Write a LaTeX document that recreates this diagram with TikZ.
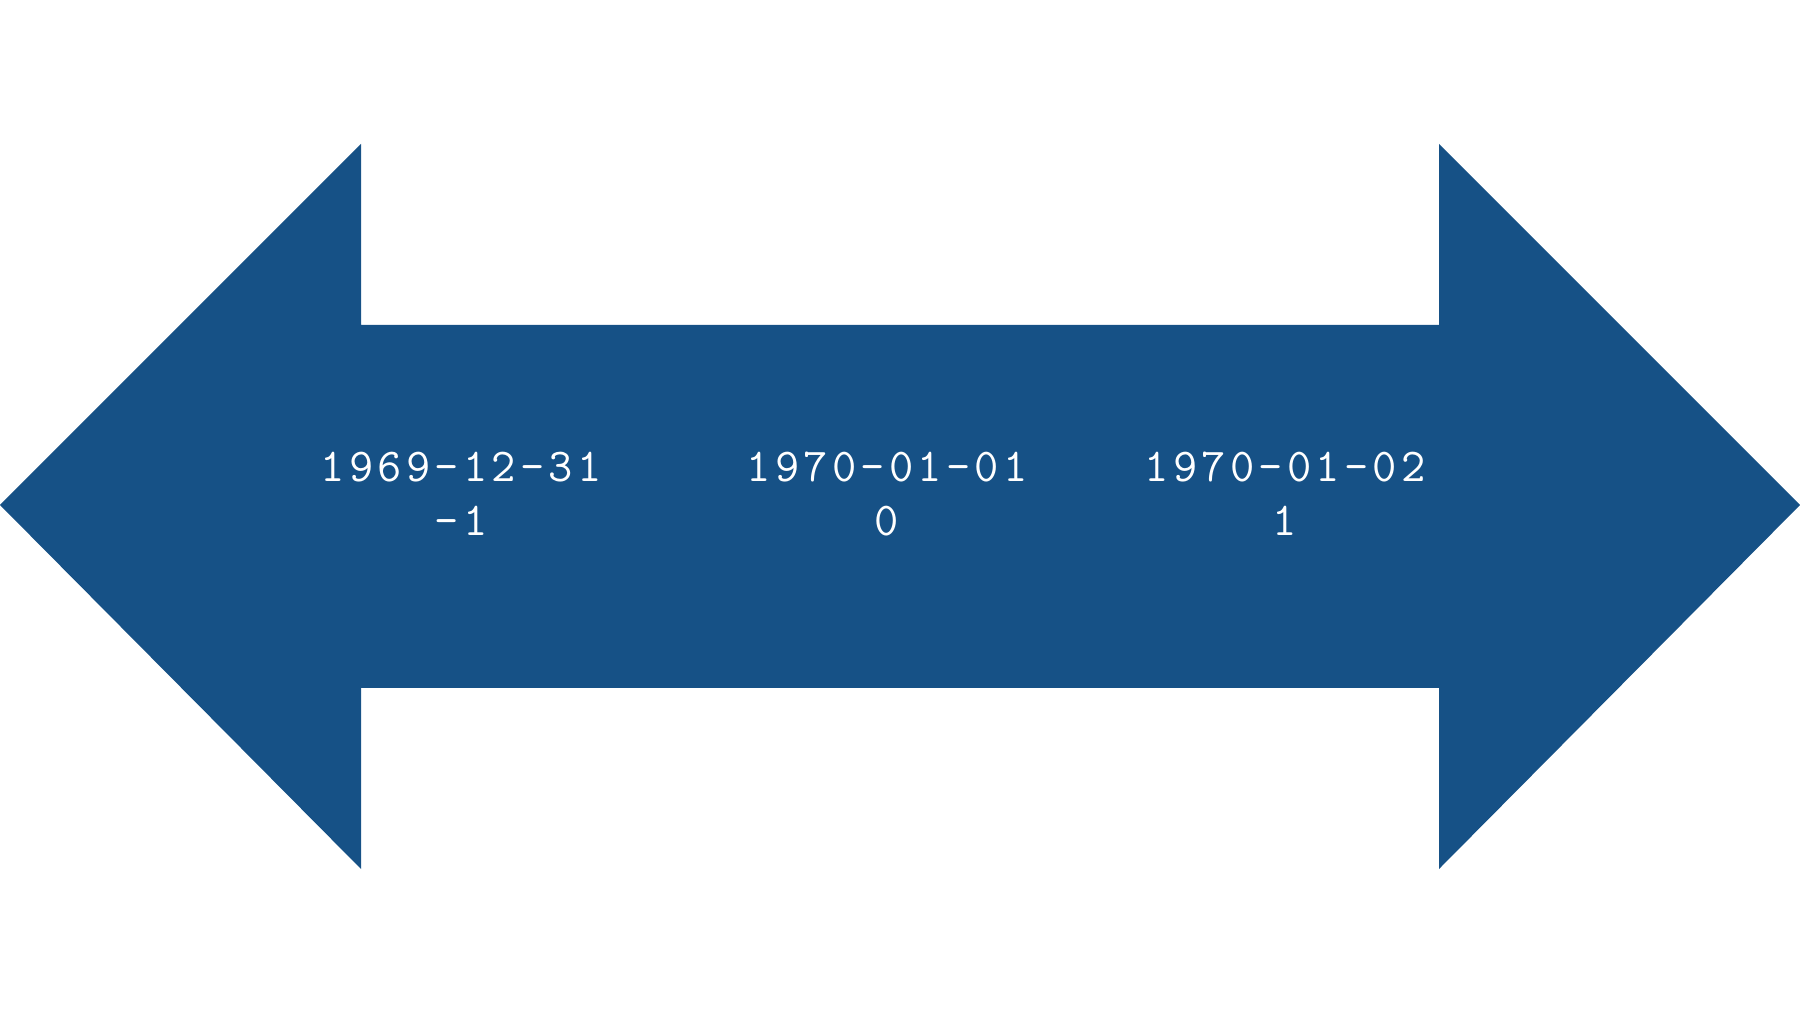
\documentclass[tikz,border=0pt]{standalone}
\usepackage{fontspec}
\newfontfamily\datefont{Latin Modern Mono}[LetterSpace=9]
\definecolor{arrowblue}{RGB}{22,81,134}
\tikzset{
  datelabel/.style={text=white, font=\datefont\fontsize{13.4}{15.6}\selectfont, align=center, inner sep=0pt}
}
\begin{document}
\begin{tikzpicture}[x=0.01cm, y=-0.01cm]
    \useasboundingbox (0,0) rectangle (1800,1013);

    % Double arrow
    \fill[arrowblue] (0,505) -- (361,144) -- (361,325) -- (1439,325) -- (1439,144)
        -- (1800,505) -- (1439,869) -- (1439,688) -- (361,688) -- (361,869) -- cycle;

    % Dates and day numbers
    \node[datelabel, anchor=base] (dminus) at (461,536) {1969-12-31\\-1};
    \node[datelabel, anchor=base] (dzero) at (887,536) {1970-01-01\\0};
    \node[datelabel, anchor=base] (dplus) at (1285,536) {1970-01-02\\1};
\end{tikzpicture}
\end{document}
